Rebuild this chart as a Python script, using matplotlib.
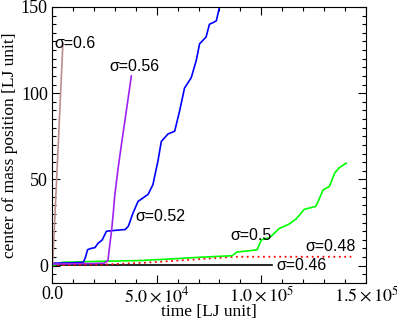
import matplotlib
matplotlib.use("Agg")
import matplotlib.pyplot as plt
from matplotlib.ticker import MultipleLocator, FixedLocator, FixedFormatter

plt.rcParams['font.family'] = ['Liberation Serif', 'DejaVu Serif']
plt.rcParams['mathtext.fontset'] = 'stix'

# sigma = 0.6
t_06 = [0, 300, 2400, 5200]
y_06 = [0, 1, 55, 129]

# sigma = 0.56
t_056 = [0, 10000, 20000, 25000, 26700, 28500, 29200, 30000, 31600, 33200, 36000, 37900]
y_056 = [1.0, 1.2, 1.3, 1.5, 3, 21, 29.7, 41, 56.8, 70.6, 94, 110]

# sigma = 0.52
t_052 = [0, 8000, 15000, 16000, 17000, 18500, 20500, 22000, 24000, 26000, 30000, 35000, 36500,
         38600, 41100, 45900, 48200, 50600, 52200, 55400, 58600, 61000, 63300, 66500, 68900,
         70500, 73600, 75200, 77000, 78500, 80000]
y_052 = [1.5, 1.6, 2.0, 5, 9.3, 10, 10.5, 13, 15, 20, 20.5, 21, 23,
         30.3, 37.3, 41.4, 47, 60.7, 72, 76.4, 78, 90, 103, 109, 119,
         128.7, 132.6, 140, 141, 142, 150]

# sigma = 0.5
t_05 = [0, 5000, 20000, 42000, 57600, 72000, 86000, 88500, 95000, 98000, 100000, 104000, 108500,
        113000, 116500, 120500, 126000, 127000, 129500, 132500, 135000, 137000, 140500]
y_05 = [0, 2.0, 2.5, 3, 4, 5, 5.8, 8, 8.8, 9.3, 15, 16.3, 21.6,
        24, 27, 32.7, 34.4, 37, 44, 46, 53.7, 56.6, 59.5]

# sigma = 0.48
t_048 = [0, 20000, 27000, 45000, 60000, 75000, 88000, 143000]
y_048 = [0.3, 0.6, 0.8, 1.8, 3.0, 4.2, 5.2, 5.2]

# sigma = 0.46
t_046 = [0, 105000]
y_046 = [0.5, 0.5]

xticks = [0, 5e4, 1e5, 1.5e5]
xticklabels = ['0.0', r'$5.0\times10^{4}$', r'$1.0\times10^{5}$', r'$1.5\times10^{5}$']

fig = plt.figure(figsize=(3.97, 3.27), dpi=100)
ax = fig.add_axes([0.131, 0.1346, 0.791, 0.844])

ax.plot(t_046, y_046, color='black', lw=1.2)
ax.plot(t_048, y_048, color='red', lw=1.3, ls=(0, (1, 2)))
ax.plot(t_05, y_05, color='#00ff00', lw=1.2)
ax.plot(t_052, y_052, color='blue', lw=1.2)
ax.plot(t_056, y_056, color='#a020f0', lw=1.2)
ax.plot(t_06, y_06, color='#bc8f8f', lw=1.2)

sans = ['Liberation Sans', 'DejaVu Sans']
ax.text(1300, 129, 'σ=0.6', family=sans, fontsize=11.5, va='center')
ax.text(27500, 115.5, 'σ=0.56', family=sans, fontsize=11.5, va='center')
ax.text(40000, 28.6, 'σ=0.52', family=sans, fontsize=11.5, va='center')
ax.text(85000, 17.5, 'σ=0.5', family=sans, fontsize=11.5, va='center')
ax.text(121000, 11, 'σ=0.48', family=sans, fontsize=11.5, va='center')
ax.text(107000, 0, 'σ=0.46', family=sans, fontsize=11.5, va='center')

ax.set_xlim(0, 1.5e5)
ax.set_ylim(-10, 150)
ax.xaxis.set_major_locator(FixedLocator(xticks))
ax.xaxis.set_major_formatter(FixedFormatter(xticklabels))
ax.xaxis.set_minor_locator(MultipleLocator(1e4))
ax.yaxis.set_major_locator(MultipleLocator(50))
ax.yaxis.set_minor_locator(MultipleLocator(5))
ax.tick_params(which='both', direction='in', top=True, right=True, labelsize=13)
ax.tick_params(which='major', length=5.5, width=0.8)
ax.tick_params(which='minor', length=2.7, width=0.8)
ax.tick_params(axis='x', pad=2)
ax.tick_params(axis='y', pad=3)

ax.set_xlabel('time [LJ unit]', fontsize=12.5, labelpad=-1)
ax.set_ylabel('center of mass position [LJ unit]', fontsize=12.5, labelpad=2)

fig.savefig('out.png', dpi=100)
